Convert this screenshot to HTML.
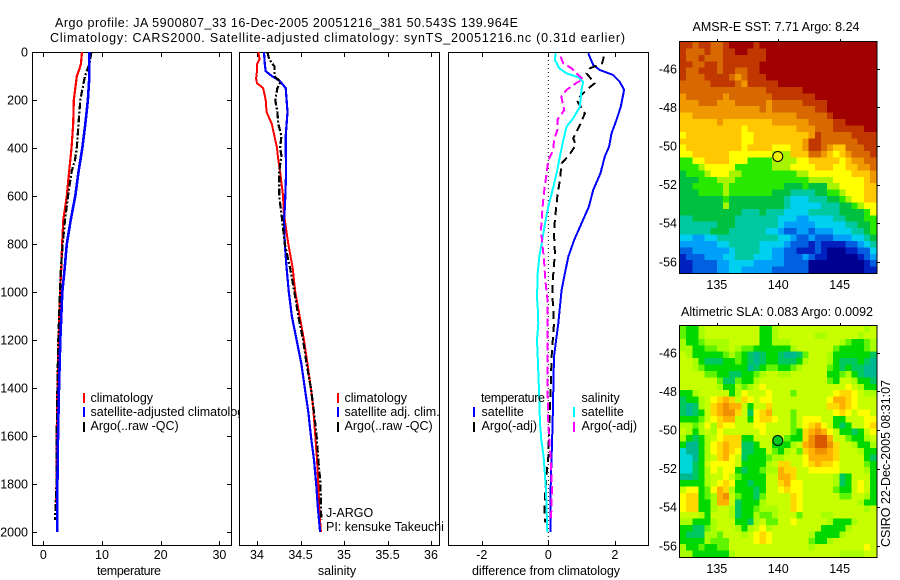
<!DOCTYPE html>
<html lang="en">
<head>
<meta charset="utf-8">
<title>Argo profile</title>
<style>
html,body{margin:0;padding:0;background:#fff;width:900px;height:580px;overflow:hidden}
svg{display:block}
text{font-family:"Liberation Sans",sans-serif;font-size:12.5px;fill:#000}
</style>
</head>
<body>
<svg id="chart" xmlns="http://www.w3.org/2000/svg" width="900" height="580" viewBox="0 0 900 580">
  <rect x="0" y="0" width="900" height="580" fill="#fff"/>
  <text x="55" y="27" textLength="463">Argo profile: JA 5900807_33 16-Dec-2005 20051216_381 50.543S 139.964E</text>
  <text x="50" y="42" textLength="575">Climatology: CARS2000. Satellite-adjusted climatology: synTS_20051216.nc (0.31d earlier)</text>

  <g id="panel-t">
    <rect x="32.5" y="52.5" width="199" height="493" fill="#fff" stroke="#000"/>
    <g id="marks-t"></g>
    <g>
      <rect x="83" y="393" width="2" height="10" fill="#f00"/>
      <rect x="83" y="407" width="2" height="10" fill="#00f"/>
      <rect x="83" y="422" width="2" height="10" fill="#000"/>
      <text x="90.5" y="402">climatology</text>
      <text x="90.5" y="416" textLength="160">satellite-adjusted climatology</text>
      <text x="90.5" y="430">Argo(..raw -QC)</text>
    </g>
    <text x="97" y="575" textLength="64">temperature</text>
  </g>

  <g id="panel-s">
    <rect x="239.5" y="52.5" width="200" height="493" fill="#fff" stroke="#000"/>
    <g id="marks-s"></g>
    <g>
      <rect x="337" y="393" width="2" height="10" fill="#f00"/>
      <rect x="337" y="407" width="2" height="10" fill="#00f"/>
      <rect x="337" y="422" width="2" height="10" fill="#000"/>
      <text x="344.5" y="402">climatology</text>
      <text x="344.5" y="416">satellite adj. clim.</text>
      <text x="344.5" y="430">Argo(..raw -QC)</text>
    </g>
    <text x="326" y="517">J-ARGO</text>
    <text x="326" y="531">PI: kensuke Takeuchi</text>
    <text x="337" y="575" text-anchor="middle">salinity</text>
  </g>

  <g id="panel-d">
    <rect x="448.5" y="52.5" width="200" height="493" fill="#fff" stroke="#000"/>
    <g id="marks-d"></g>
    <g>
      <text x="481" y="402" textLength="64">temperature</text>
      <rect x="473" y="407" width="2" height="10" fill="#00f"/>
      <rect x="473" y="422" width="2" height="10" fill="#000"/>
      <text x="481.5" y="416">satellite</text>
      <text x="481.5" y="430">Argo(-adj)</text>
      <text x="581.5" y="402">salinity</text>
      <rect x="573" y="407" width="2" height="10" fill="#0ff"/>
      <rect x="573" y="422" width="2" height="10" fill="#f0f"/>
      <text x="581.5" y="416">satellite</text>
      <text x="581.5" y="430">Argo(-adj)</text>
    </g>
    <text x="546" y="575" text-anchor="middle" textLength="148">difference from climatology</text>
  </g>

  <g id="map-sst">
    <text x="692.5" y="31" textLength="167">AMSR-E SST: 7.71 Argo: 8.24</text>
  </g>
  <g id="map-sla">
    <text x="681" y="316" textLength="192">Altimetric SLA: 0.083 Argo: 0.0092</text>
  </g>
  <text transform="translate(890 547) rotate(-90)" textLength="167">CSIRO 22-Dec-2005 08:31:07</text>
</svg>

<script>
// ---- Profile data: depth (dbar) and value arrays ----
const tempClimDepth = [0,50,75,100,150,200,300,400,500,600,700,800,900,1000,1200,1400,1600,1800,1880];
const tempClimValue = [6.6,6.4,6.1,5.7,5.45,5.2,5.1,4.8,4.4,4.0,3.4,3.2,3.07,2.85,2.6,2.4,2.28,2.25,2.2];
const tempSatDepth = [0,100,200,300,400,500,600,700,800,900,1000,1200,1400,1600,1800,2000];
const tempSatValue = [7.85,7.85,7.6,7.15,6.65,6.0,5.45,4.67,4.0,3.65,3.24,2.9,2.67,2.5,2.4,2.4];
const tempArgoDepth = [0,50,100,200,300,400,450,500,600,700,800,900,1000,1200,1400,1600,1800,1950];
const tempArgoValue = [8.2,7.85,7.1,6.3,6.0,5.7,5.4,4.8,4.2,3.7,3.3,3.0,2.85,2.55,2.4,2.28,2.25,2.0];

const salClimDepth = [0,30,50,80,110,130,150,200,250,300,350,400,450,500,600,650,700,800,900,1000,1100,1200,1300,1400,1500,1600,1700,1800,1900,2000];
const salClimValue = [34.015,34.03,34.0,34.0,33.99,34.0,34.07,34.1,34.11,34.17,34.2,34.23,34.245,34.265,34.3,34.305,34.32,34.36,34.41,34.44,34.49,34.54,34.58,34.62,34.65,34.67,34.69,34.705,34.715,34.735];
const salSatDepth = [0,50,80,100,120,150,200,250,300,350,400,500,600,650,700,800,900,1000,1100,1200,1300,1400,1500,1600,1700,1800,1900,2000];
const salSatValue = [34.08,34.09,34.1,34.17,34.26,34.33,34.34,34.35,34.34,34.33,34.33,34.335,34.325,34.32,34.31,34.32,34.34,34.365,34.4,34.455,34.51,34.55,34.59,34.62,34.655,34.68,34.7,34.725];
const salArgoDepth = [0,30,60,100,125,150,200,250,300,350,400,430,500,600,700,800,900,1000,1100,1200,1300,1400,1500,1600,1700,1800,1900,1950];
const salArgoValue = [34.12,34.14,34.2,34.2,34.27,34.235,34.21,34.235,34.245,34.28,34.265,34.28,34.255,34.255,34.29,34.32,34.38,34.43,34.475,34.53,34.57,34.62,34.655,34.685,34.705,34.73,34.735,34.74];

const diffTempSatDepth = [5,54,75,96,124,158,228,283,339,394,436,505,575,644,714,783,853,922,992,1131,1269,1408,1547,1686,1825,2000];
const diffTempSatValue = [1.2,1.35,1.55,1.95,2.15,2.28,2.18,2.05,1.9,1.83,1.7,1.57,1.35,1.22,1.0,0.78,0.6,0.5,0.4,0.3,0.17,0.15,0.13,0.1,0.07,0.07];
const diffSalSatDepth = [5,33,68,89,105,124,158,228,276,311,367,436,505,575,644,714,783,853,922,1026,1061,1131,1200,1269,1408,1547,1616,1686,1825,2000];
const diffSalSatValue = [0.22,0.2,0.33,0.55,0.9,1.05,1.0,0.95,0.75,0.55,0.45,0.35,0.25,0.13,0,-0.1,-0.18,-0.27,-0.32,-0.34,-0.32,-0.3,-0.34,-0.32,-0.28,-0.25,-0.21,-0.14,-0.07,-0.03];
const diffTempArgoDepth = [19,47,68,89,130,158,200,256,311,360,387,429,464,533,603,700,756,839,922,1006,1131,1269,1408,1547,1686,1756,1850,1935,1960];
const diffTempArgoValue = [1.67,1.62,1.25,1.15,1.4,1.15,0.85,1.1,0.93,0.75,0.83,0.63,0.4,0.35,0.27,0.2,0.17,0.2,0.15,0.12,0.17,0.1,0.07,0.03,0,-0.05,-0.1,-0.12,-0.09];
const diffSalArgoDepth = [19,47,68,96,114,128,158,186,242,283,325,367,408,450,505,575,644,742,811,867,950,1026,1131,1269,1408,1547,1616,1686,1825,1950];
const diffSalArgoValue = [0.37,0.45,0.7,0.9,1.05,0.85,0.55,0.39,0.48,0.27,0.27,0.17,0.15,0,-0.05,-0.12,-0.17,-0.22,-0.17,-0.13,-0.09,-0.03,-0.03,-0.03,-0.02,0,0.03,0.07,0.11,0.08];

// ---- Tick labels ----
const depthTicks = [0,200,400,600,800,1000,1200,1400,1600,1800,2000];
const tempTicks = [0,10,20,30];
const salTicks = [34,34.5,35,35.5,36];
const salTickLabels = ['34','34.5','35','35.5','36'];
const diffTicks = [-2,0,2];
const lonTicks = [135,140,145];
const latTicks = [-46,-48,-50,-52,-54,-56];

// ---- Float position ----
const floatLon = [139.964];
const floatLat = [-50.543];

// ---- Gridded maps, 32 columns x 36 rows, one letter per cell (level a.. in ascending order) ----
const sstRows = [
"nnmn nmmn oooo nooo oooo oooo oooo oooo",
"nmmm nmmn noon nnoo oooo oooo oooo oooo",
"nmmn mmmn nnnn nnoo oooo oooo oooo oooo",
"nnmm nnmn nnnn nooo oooo oooo oooo oooo",
"nmmn nnmn nmmn nooo oooo oooo oooo oooo",
"nmmm nnnn mlmn nnoo oooo oooo oooo oooo",
"mmmm mnnn nmln nnnn oooo oooo oooo oooo",
"mmmm mmmm mmmm mmnn nnnn oooo oooo oooo",
"lmmm mmml mmmm mmmn nnnn nnoo oooo oooo",
"lllm mmll lmmm mmlm mmmm nnnn oooo oooo",
"llll llll llll lmlm mmmm mmnn oooo oooo",
"kkll llll llll llll lllm mmmm nooo oooo",
"kkkk kklk kkkk kkkl llll lmmm mnno oooo",
"kkkk kkkk kkjk kkkk kkkl llmm mnnn nnoo",
"jkkk kkkk kkjj kkkk kkkk klnm mmmm nnnn",
"kkkk kkkk kkjj kkkk kkkk lnnm mmmm mnnn",
"jkkk kkkk kkjk kkkj jjkk lnnm lkkm mmnn",
"jjkk kkkk jjjj jjji iikk kmml kjkl mmmn",
"hhjj kkkk jjjh hhhi iiij jkkk kkjk llmm",
"hhhi jjjj jhhh hhhi iijj jjkk kjjk kllm",
"ghhh ijjj iihh hhhh hhhi ijjj jjjj kkkl",
"gggh hhii ihhh hhhh hhhh hiii ijjj jjkl",
"gghh hhhi hhhh hhhh hggg hggg iijj jjkk",
"gggh hhhi hhhh hhhg ggff ffgg hhij jjkk",
"gggg gggh gggg gggg gfee efff gghi jjkk",
"gggg gggi gggg gggg gfee eeef ffgg hijj",
"gggg gggg ggff fgff feee efff ffgg gghj",
"ffgg gggg gfff ffff eeed deee effg gghh",
"ffff ffgg gfff ffff eddd ddee eeef fggh",
"ffff fggg ffff ffee dccd dcdd deee ffgh",
"eedd eeff ffff ffff eedc cdcc cddd eefg",
"dddd ddee ffff feee edcc cbcb bbbc cdef",
"ccdd dddd efff feed dccb bbcb aaab bcce",
"bccc ddde efff eeed dccc dcbb aaaa abcd",
"bbcc ccdd eeee dddd dccc caaa aaaa aabc",
"bbcc ccdd eedd dddc cccc caaa aaaa aabb"
];
const slaRows = [
"eddf gggg gggg gddf gggg gggg gggg ggfg",
"eddf gggg gggg gddf gggg ggff gggg gfgg",
"fdde ffff gggg gddf ffgg gggg ggfe ddef",
"ffdd eeff gfee dddd ddfg gggg gedd ddef",
"gfdd ddde fedc bcdd cbbc eggg fddd dddc",
"ggfd cccd dedc bcdd cccd fggg fdcc cdcb",
"ggfe dddd dddb cdee ddef gggg edcd ccbb",
"gggg eedd ccdd efgg ffgg gggg ddef dcbb",
"gggg ggec cedd fggg gggg gggg edgg fddc",
"gggg ggfd dfef ghgg gggg gggg gggh gfdd",
"ddfg gggg dfhg gghg ggeg gggg ghii hgff",
"cddf ghij igih ghhg gggg gggg hjji hggg",
"cbcf gijk jjgd ggig gggg gggg iiji hggg",
"cbcd gijk kigc hijg ggeg gggg ghih ghhg",
"ddde ghij jggd hiih ggeg hhhg gddg gghh",
"ffef hfih hggg hhgg ggeg hijh gdcd gghi",
"gfdf gfhg gggg ghgg gged ijkj hgdd cdgh",
"fdcd fghi iidd gggf gedd ikll jgge ddfg",
"dbbd fhij iicc dggd ddfg jkll kigg fddf",
"abbd fhij ihcc ddge dfge ijkk jigg gfdd",
"aabd fgij hgcd ddef fggg hjjj jigg ggdc",
"aacd ghhh hgdd ddfg iigg hiji ihgg gged",
"aacd fhgh hdcd deff jiig ghhh hhgg ggfd",
"bbcd fggh gedd ddgg jjig gggg gfcd gggd",
"dddd fghi hddc ddgg ijhh gggg gfcd ghgd",
"ghhd ehji fddd cdgg hihh gggg gedd ghgd",
"hiid efjk gedd cegg ggih gggg ggee ggfd",
"hiid dfjj gcdd dfgg ggih gggg gggg gfdd",
"hiid dfgg fcdd efff ggih gggg gggg ggfg",
"gggf dggg fcdd feef ggge gggf fggg gggg",
"ffdd dfgg gddc fgee gghg gggg fddd fggg",
"ddcc efgg gfdf ghfg gggg gggd dddf gggg",
"dccc ffeg ggfg hihg gggg gfdd ddfg gggg",
"dddd feee gggg hihg gggg gedd fggg gggg",
"fdde ddee gggg gggg gggg gfgg gggg gghg",
"ffdd dddd fggg gggg gggg gggg ggff ffgg"
];
const sstLevelColors = ['#000090','#0020c0','#0060e0','#00a0f8','#00d0f0','#00c8a0','#00c040','#28e800','#a8f400','#ffff00','#ffc800','#f09800','#d86800','#c03800','#a00000'];
const slaLevelColors = ['#00d8d8','#00b890','#00c860','#00d800','#60f400','#a8ff00','#c8ff00','#ffff00','#ffd800','#ffb000','#f09000','#d85800'];

// ---- Axis functions ----
const SVGNS = 'http://www.w3.org/2000/svg';
function yDepth(d){ return 52 + d * 0.24; }
function xTemp(v){ return 43.3 + v * 5.87; }
function xSal(v){ return 257 + (v - 34) * 87; }
function xDiff(v){ return 548.3 + v * 33.25; }
function xLon(lon){ return 680 + (lon - 132) * 12.28; }
function ySst(lat){ return 146 - (lat + 50) * 19.3; }
function ySla(lat){ return 430 - (lat + 50) * 19.3; }

function make(tag, parent, attrs){
  const el = document.createElementNS(SVGNS, tag);
  for (const k in attrs) el.setAttribute(k, attrs[k]);
  parent.appendChild(el);
  return el;
}
function drawSeries(parent, xFn, depths, values, color, width, dash, name){
  const pts = depths.map((d, i) => xFn(values[i]).toFixed(1) + ',' + yDepth(d).toFixed(1)).join(' ');
  const el = make('polyline', parent, {points: pts, fill: 'none', stroke: color, 'stroke-width': width, 'stroke-linejoin': 'round', 'shape-rendering': 'crispEdges'});
  if (dash) el.setAttribute('stroke-dasharray', dash);
  
  
}
function tickLine(parent, x1, y1, x2, y2){
  const el = make('line', parent, {x1: x1, y1: y1, x2: x2, y2: y2, stroke: '#000', 'stroke-width': 1, 'shape-rendering': 'crispEdges'});
  
  
}
function tickText(parent, x, y, anchor, str){
  const el = make('text', parent, {x: x, y: y, 'text-anchor': anchor});
  el.textContent = str;
  
  
}
function xAxis(parent, ticks, labels, xFn){
  ticks.forEach((t, i) => {
    const x = Math.round(xFn(t)) + 0.5;
    tickLine(parent, x, 52, x, 57);
    tickLine(parent, x, 541, x, 546);
    tickText(parent, xFn(t), 559, 'middle', labels[i]);
  });
}

// ---- Profile panels ----
const marksT = document.getElementById('marks-t');
const marksS = document.getElementById('marks-s');
const marksD = document.getElementById('marks-d');

depthTicks.forEach(d => {
  const y = Math.round(yDepth(d)) + 0.5;
  tickLine(marksT, 32, y, 37, y);
  tickLine(marksT, 227, y, 232, y);
  tickText(marksT, 28, yDepth(d) + 4.5, 'end', String(d));
});
xAxis(marksT, tempTicks, tempTicks.map(String), xTemp);
xAxis(marksS, salTicks, salTickLabels, xSal);
xAxis(marksD, diffTicks, diffTicks.map(String), xDiff);

const dashLong = '7 2 2 2';
drawSeries(marksT, xTemp, tempClimDepth, tempClimValue, '#f00', 2.2, null, 'temperature-climatology-line');
drawSeries(marksT, xTemp, tempArgoDepth, tempArgoValue, '#000', 2.2, dashLong, 'temperature-argo-line');
drawSeries(marksT, xTemp, tempSatDepth, tempSatValue, '#00f', 2.6, null, 'temperature-satellite-line');

drawSeries(marksS, xSal, salClimDepth, salClimValue, '#f00', 2, null, 'salinity-climatology-line');
drawSeries(marksS, xSal, salSatDepth, salSatValue, '#00f', 2.2, null, 'salinity-satellite-line');
drawSeries(marksS, xSal, salArgoDepth, salArgoValue, '#000', 2.2, dashLong, 'salinity-argo-line');

const zeroLine = make('line', marksD, {x1: xDiff(0), y1: 52, x2: xDiff(0), y2: 545, stroke: '#000', 'stroke-width': 1, 'stroke-dasharray': '1 3'});


drawSeries(marksD, xDiff, diffTempSatDepth, diffTempSatValue, '#00f', 2, null, 'difference-temperature-satellite-line');
drawSeries(marksD, xDiff, diffTempArgoDepth, diffTempArgoValue, '#000', 2, '8 5', 'difference-temperature-argo-line');
drawSeries(marksD, xDiff, diffSalSatDepth, diffSalSatValue, '#0ff', 2, null, 'difference-salinity-satellite-line');
drawSeries(marksD, xDiff, diffSalArgoDepth, diffSalArgoValue, '#f0f', 2, '8 4', 'difference-salinity-argo-line');

// ---- Maps ----
function drawMap(groupId, rows, colors, yFn, top, bottom, dotColor, prefix){
  const g = document.getElementById(groupId);
  const left = 680, right = 876, nCols = 32, nRows = rows.length;
  const cw = (right - left) / nCols, ch = (bottom - top) / nRows;
  rows.forEach((row, r) => {
    const cells = row.replace(/ /g, '');
    for (let c = 0; c < nCols; c++) {
      const level = cells.charCodeAt(c) - 97;
      const cell = make('rect', g, {x: (left + c * cw).toFixed(2), y: (top + r * ch).toFixed(2), width: (cw + 0.5).toFixed(2), height: (ch + 0.5).toFixed(2), fill: colors[level], 'shape-rendering': 'crispEdges'});
      
      
    }
  });
  const frame = make('rect', g, {x: 679.5, y: top - 0.5, width: 197.5, height: bottom - top + 1, fill: 'none', stroke: '#000', 'stroke-width': 1, 'shape-rendering': 'crispEdges'});
  
  
  lonTicks.forEach(lon => {
    const x = Math.round(xLon(lon)) + 0.5;
    tickLine(g, x, top - 3, x, top);
    tickText(g, xLon(lon), bottom + 16, 'middle', String(lon));
  });
  latTicks.forEach(lat => {
    const y = Math.round(yFn(lat)) + 0.5;
    tickLine(g, 877, y, 880, y);
    tickText(g, 677, yFn(lat) + 4.5, 'end', String(lat));
  });
  const dot = make('circle', g, {cx: xLon(floatLon[0]), cy: yFn(floatLat[0]), r: 5, fill: dotColor, stroke: '#000', 'stroke-width': 1});
  
  
}
drawMap('map-sst', sstRows, sstLevelColors, ySst, 42, 273, '#f0f000', 'sst');
drawMap('map-sla', slaRows, slaLevelColors, ySla, 326, 557, '#00c820', 'sla');
</script>
</body>
</html>
